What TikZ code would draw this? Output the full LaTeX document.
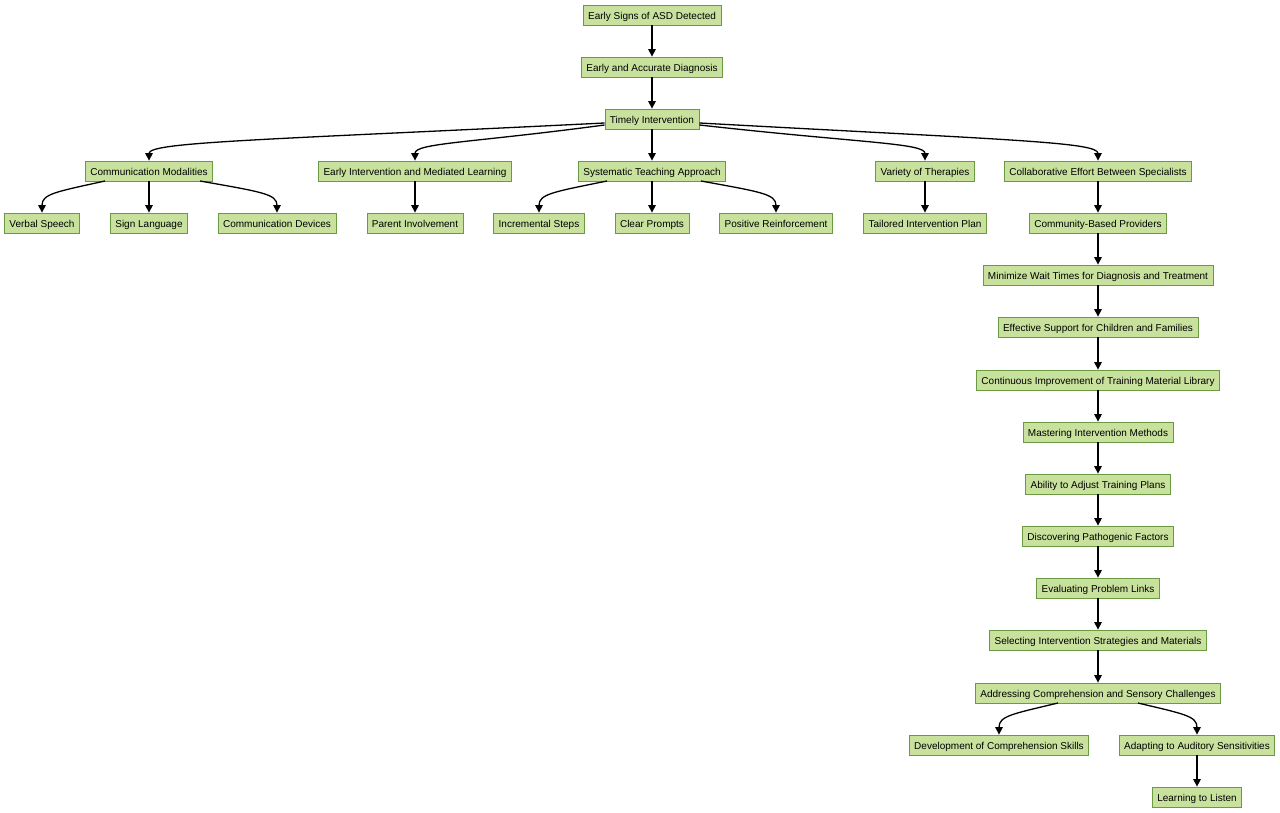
\documentclass[tikz,border=0pt]{standalone}
\usepackage{fontspec}
\setmainfont{Liberation Sans}
\usetikzlibrary{arrows.meta}
\definecolor{boxfill}{HTML}{C8E29E}
\definecolor{boxline}{HTML}{6A9A44}
\tikzset{
  box/.style={draw=boxline, fill=boxfill, line width=0.8pt, minimum height=20pt, inner xsep=5pt, inner ysep=0pt, text height=9pt, text depth=0pt, font=\fontsize{10}{12}\selectfont},
  edge/.style={draw=black, line width=1.3pt, -{Triangle[length=7.5pt,width=7.5pt]}}
}
\begin{document}
\begin{tikzpicture}[x=1pt,y=-1pt]
\useasboundingbox (0,0) rectangle (1280,813);
% row 1-3
\node[box] (esd) at (652,15) {Early Signs of ASD Detected};
\node[box] (ead) at (652,67) {Early and Accurate Diagnosis};
\node[box] (ti) at (652,119) {Timely Intervention};
% row 4
\node[box] (cm) at (149,171) {Communication Modalities};
\node[box] (eiml) at (415,171) {Early Intervention and Mediated Learning};
\node[box] (sta) at (652,171) {Systematic Teaching Approach};
\node[box] (vt) at (925,171) {Variety of Therapies};
\node[box] (ceb) at (1098,171) {Collaborative Effort Between Specialists};
% row 5
\node[box] (vs) at (42,223) {Verbal Speech};
\node[box] (sl) at (149,223) {Sign Language};
\node[box] (cd) at (277,223) {Communication Devices};
\node[box] (pi) at (415,223) {Parent Involvement};
\node[box] (is) at (539,223) {Incremental Steps};
\node[box] (cp) at (652,223) {Clear Prompts};
\node[box] (pr) at (776,223) {Positive Reinforcement};
\node[box] (tip) at (925,223) {Tailored Intervention Plan};
\node[box] (cbp) at (1098,223) {Community-Based Providers};
% column
\node[box] (mwt) at (1098,275) {Minimize Wait Times for Diagnosis and Treatment};
\node[box] (esc) at (1098,327) {Effective Support for Children and Families};
\node[box] (cit) at (1098,380) {Continuous Improvement of Training Material Library};
\node[box] (mim) at (1098,432) {Mastering Intervention Methods};
\node[box] (atp) at (1098,484) {Ability to Adjust Training Plans};
\node[box] (dpf) at (1098,536) {Discovering Pathogenic Factors};
\node[box] (epl) at (1098,588) {Evaluating Problem Links};
\node[box] (sis) at (1098,640) {Selecting Intervention Strategies and Materials};
\node[box] (acs) at (1098,693) {Addressing Comprehension and Sensory Challenges};
\node[box] (dcs) at (999,745) {Development of Comprehension Skills};
\node[box] (aas) at (1197,745) {Adapting to Auditory Sensitivities};
\node[box] (ltl) at (1197,797) {Learning to Listen};
% straight edges
\draw[edge] (esd) -- (ead);
\draw[edge] (ead) -- (ti);
\draw[edge] (ti) -- (sta);
\draw[edge] (cm) -- (sl);
\draw[edge] (eiml) -- (pi);
\draw[edge] (sta) -- (cp);
\draw[edge] (vt) -- (tip);
\draw[edge] (ceb) -- (cbp);
\draw[edge] (cbp) -- (mwt);
\draw[edge] (mwt) -- (esc);
\draw[edge] (esc) -- (cit);
\draw[edge] (cit) -- (mim);
\draw[edge] (mim) -- (atp);
\draw[edge] (atp) -- (dpf);
\draw[edge] (dpf) -- (epl);
\draw[edge] (epl) -- (sis);
\draw[edge] (sis) -- (acs);
\draw[edge] (aas) -- (ltl);
% curved edges from Timely Intervention
\draw[edge] (ti.west |- 0,123) .. controls (260,140) and (149,142) .. (cm.north);
\draw[edge] (ti.west |- 0,125) .. controls (470,143) and (415,143) .. (eiml.north);
\draw[edge] (ti.east |- 0,125) .. controls (860,143) and (925,143) .. (vt.north);
\draw[edge] (ti.east |- 0,123) .. controls (1010,140) and (1098,142) .. (ceb.north);
% curved edges from lower parents
\draw[edge] (105,181) .. controls (55,192) and (42,194) .. (vs.north);
\draw[edge] (200,181) .. controls (262,192) and (277,194) .. (cd.north);
\draw[edge] (607,181) .. controls (553,192) and (539,194) .. (is.north);
\draw[edge] (701,181) .. controls (761,192) and (776,194) .. (pr.north);
\draw[edge] (1058,703) .. controls (1012,714) and (999,716) .. (dcs.north);
\draw[edge] (1138,703) .. controls (1184,714) and (1197,716) .. (aas.north);
\end{tikzpicture}
\end{document}
